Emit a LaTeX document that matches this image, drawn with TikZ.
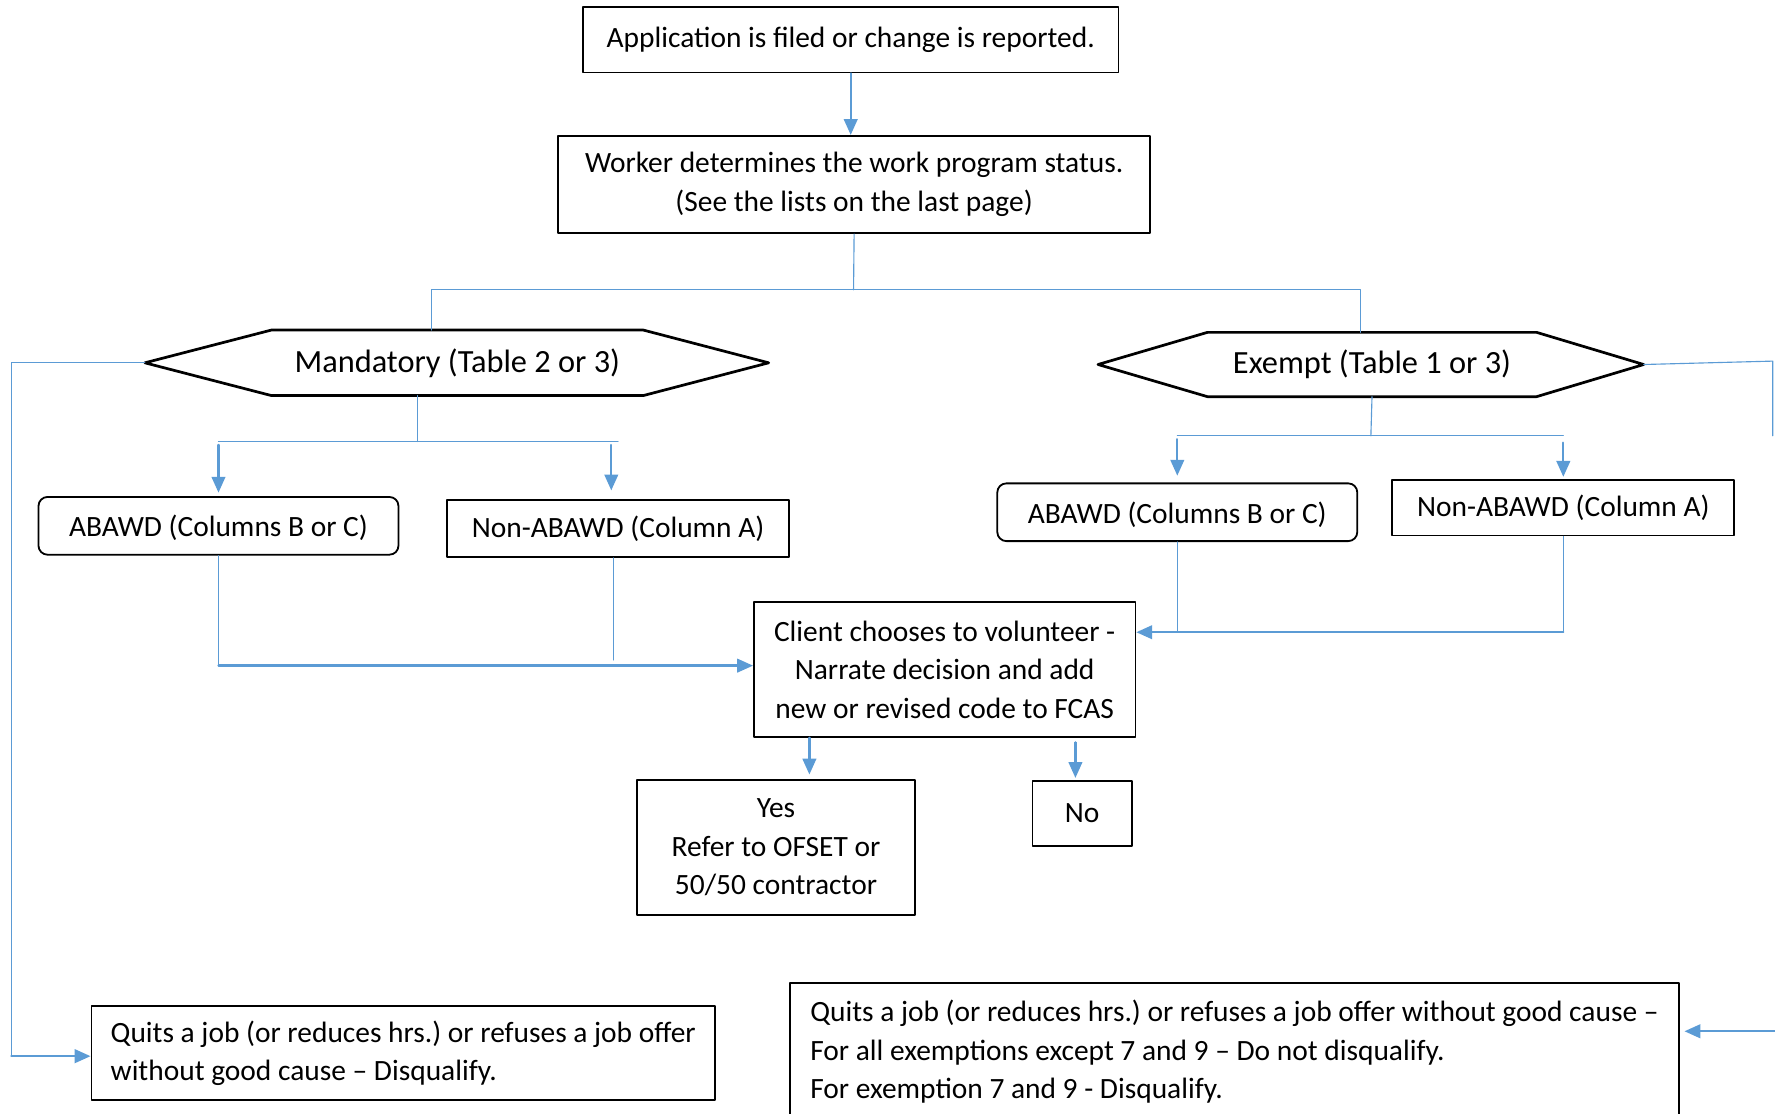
\documentclass[tikz,border=0pt]{standalone}
\usepackage{fontspec}
\setmainfont{Carlito}
\usetikzlibrary{arrows.meta, calc}
\definecolor{flowblue}{HTML}{5B9BD5}
\frenchspacing

\begin{document}
\begin{tikzpicture}[line cap=round,line join=round,>={Triangle[length=7pt,width=6pt]},x=0.5pt,y=-0.5pt,
  every node/.style={font=\fontsize{13}{17}\selectfont},
  box/.style={draw=black, line width=0.8pt, inner sep=0pt, align=center},
  rbox/.style={box, rounded corners=4pt, text depth=0pt},
  hexbox/.style={inner sep=0pt, font=\fontsize{14.3}{17}\selectfont},
  hexline/.style={draw=black, line width=1.2pt},
  notebox/.style={box, align=left, anchor=west},
  thinline/.style={draw=flowblue, line width=0.5pt},
  arr/.style={->, draw=flowblue, line width=1pt}]
\useasboundingbox (0,0) rectangle (1568,984);

\node[box, minimum width=236.5pt, minimum height=29pt] (app) at (751.5,35) {Application is filed or change is reported.};
\node[box, minimum width=261.5pt, minimum height=43pt] (wrk) at (754.5,163) {Worker determines the work program status.\\(See the lists on the last page)};

\node[hexbox, minimum width=164pt, minimum height=28.5pt] (man) at (404,320.5) {Mandatory (Table 2 or 3)};
\coordinate (manL) at (128,320.5);
\coordinate (manR) at (679,320.5);
\draw[hexline] (manL) -- (man.north west) -- (man.north east) -- (manR) -- (man.south east) -- (man.south west) -- cycle;

\node[hexbox, minimum width=145pt, minimum height=28pt] (ex) at (1212,322) {Exempt (Table 1 or 3)};
\coordinate (exL) at (970,322);
\coordinate (exR) at (1452,322);
\draw[hexline] (exL) -- (ex.north west) -- (ex.north east) -- (exR) -- (ex.south east) -- (ex.south west) -- cycle;

\node[rbox, minimum width=159pt, minimum height=25.5pt] (abl) at (193,464.5) {ABAWD (Columns B or C)};
\node[box, minimum width=151pt, minimum height=25pt] (nal) at (546,467) {Non-ABAWD (Column A)};
\node[rbox, minimum width=159pt, minimum height=25.5pt] (abr) at (1040,452.5) {ABAWD (Columns B or C)};
\node[box, minimum width=151pt, minimum height=24.5pt] (nar) at (1381,448.5) {Non-ABAWD (Column A)};

\node[box, minimum width=168.5pt, minimum height=59.5pt] (cli) at (834.5,591.5) {Client chooses to volunteer -\\Narrate decision and add\\new or revised code to FCAS};
\node[box, minimum width=122.5pt, minimum height=59.5pt] (yes) at (685.5,748.5) {Yes\\Refer to OFSET or\\50/50 contractor};
\node[box, minimum width=44pt, minimum height=28.5pt] (no) at (956,718.5) {No};

\node[notebox, inner xsep=8.5pt, minimum height=41.5pt] (ql) at (80,930.5) {Quits a job (or reduces hrs.) or refuses a job offer\\without good cause -- Disqualify.};
\node[notebox, inner xsep=9pt, minimum height=61pt] (qr) at (697,929) {Quits a job (or reduces hrs.) or refuses a job offer without good cause --\\For all exemptions except 7 and 9 -- Do not disqualify.\\For exemption 7 and 9 - Disqualify.};

\draw[arr] (app.south) -- (app.south |- wrk.north);

\coordinate (wsplit) at (754,256);
\draw[thinline] (wrk.south) -- (wsplit);
\draw[thinline] ([xshift=-11.5pt]man.north) |- (wsplit) -| ([xshift=-5pt]ex.north);

\coordinate (msplit) at (369,390);
\draw[thinline] ([xshift=-17.5pt]man.south) -- (msplit);
\draw[thinline] (abl.north |- msplit) -- (nal.north |- msplit);
\draw[arr, shorten <=1.5pt, shorten >=1.5pt] (abl.north |- msplit) -- (abl.north);
\draw[arr, shorten <=1.5pt, shorten >=4pt] ([xshift=-3pt]nal.north |- msplit) -- ([xshift=-3pt]nal.north);

\coordinate (esplit) at (1211,385);
\draw[thinline] (ex.south) -- (esplit);
\draw[thinline] (abr.north |- esplit) -- (nar.north |- esplit);
\draw[arr, shorten <=1.5pt, shorten >=3pt] (abr.north |- esplit) -- (abr.north);
\draw[arr, shorten <=3pt, shorten >=1pt] (nar.north |- esplit) -- (nar.north);

\coordinate (cliinL) at ([yshift=1.75pt]cli.west);
\draw[thinline] (abl.south) -- (abl.south |- cliinL);
\draw[arr] (abl.south |- cliinL) -- (cliinL);
\draw[thinline] ([xshift=-2pt]nal.south) -- ([xshift=-2pt,yshift=2.5pt]nal.south |- cliinL);

\coordinate (cliinR) at ([yshift=16.5pt]cli.east);
\draw[thinline] (abr.south) -- (abr.south |- cliinR);
\draw[thinline] (nar.south) -- (nar.south |- cliinR);
\draw[arr] (nar.south |- cliinR) -- (cliinR);

\draw[arr, shorten >=2pt] ([xshift=14.75pt]yes.north |- cli.south) -- ([xshift=14.75pt]yes.north);
\draw[arr, shorten <=2pt, shorten >=1pt] ([xshift=-3pt]no.north |- cli.south) -- ([xshift=-3pt]no.north);

\coordinate (lft) at (10,933);
\draw[thinline] (manL) -| (lft);
\draw[arr] (lft) -- (lft -| ql.west);

\coordinate (rgtTop) at (1566,319);
\draw[thinline] (exR) -- (rgtTop) -- ++(0,66);
\coordinate (rgt) at (1570,911);
\draw[arr, shorten >=2pt] (rgt) -- (rgt -| qr.east);
\end{tikzpicture}
\end{document}
